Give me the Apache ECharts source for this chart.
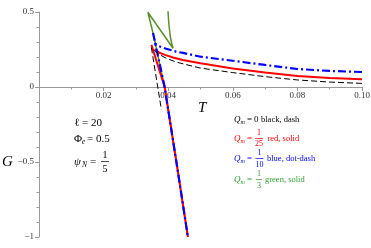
<!DOCTYPE html>
<html>
<head>
<meta charset="utf-8">
<script src="https://cdn.jsdelivr.net/npm/echarts@6/dist/echarts.min.js"></script>
<style>html,body{margin:0;padding:0;background:#fff}#c{width:371px;height:248px}</style>
</head>
<body>
<div id="c"></div>
<script>
// ---- data ----
const xTicks = [0.02, 0.04, 0.06, 0.08, 0.10];
const yTicks = [-1, -0.5, 0, 0.5];

// Q_m = 0 (black, dash): large-T branch + cusp + short steep branch
const blackT = [0.100, 0.090, 0.080, 0.070, 0.060, 0.050, 0.0477, 0.0436, 0.0415, 0.0390, 0.0374, 0.0360, 0.0348, 0.0379];
const blackG = [0.024, 0.033, 0.047, 0.069, 0.096, 0.126, 0.138, 0.160, 0.174, 0.196, 0.215, 0.236, 0.262, -0.152];

// Q_m = 1/25 (red, solid)
const redUpperT = [0.100, 0.090, 0.080, 0.070, 0.060, 0.050, 0.0445, 0.0415, 0.0390, 0.0373, 0.0358];
const redUpperG = [0.051, 0.060, 0.073, 0.096, 0.124, 0.158, 0.180, 0.197, 0.214, 0.228, 0.252];
const redSteepT = [0.0348, 0.0389, 0.04254, 0.0461];
const redSteepG = [0.282, 0.000, -0.500, -1.000];

// Q_m = 1/10 (blue, dot-dash)
const blueUpperT = [0.100, 0.090, 0.080, 0.070, 0.060, 0.050, 0.0477, 0.0446, 0.0424, 0.0394, 0.0367, 0.0358];
const blueUpperG = [0.100, 0.107, 0.120, 0.147, 0.175, 0.202, 0.213, 0.227, 0.236, 0.255, 0.275, 0.293];
const blueSteepT = [0.0353, 0.0389, 0.04254, 0.0461];
const blueSteepG = [0.360, 0.000, -0.500, -1.000];

// Q_m = 1/3 (green, solid)
const greenT = [0.0399, 0.0401, 0.0403, 0.0407, 0.0411, 0.0415, 0.0337, 0.0353, 0.0389, 0.04254, 0.0461];
const greenG = [0.520, 0.450, 0.400, 0.330, 0.290, 0.258, 0.498, 0.360, 0.000, -0.500, -1.000];

const zip = (a, b) => a.map((v, i) => [v, b[i]]);

const SERIF = 'Liberation Serif, DejaVu Serif, serif';
function txt(x, y, s, size, color, italic, align) {
  return { type: 'text', x: x, y: y, silent: true,
    style: { text: s, fill: color, font: (italic ? 'italic ' : '') + size + 'px ' + SERIF,
      textAlign: align || 'left', textVerticalAlign: 'middle', verticalAlign: 'middle' } };
}
function hline(x1, x2, y, color) {
  return { type: 'line', silent: true, shape: { x1: x1, y1: y, x2: x2, y2: y }, style: { stroke: color, lineWidth: 0.7 } };
}
function qm(y, color) {
  return [txt(234, y, 'Q', 9, color, true), txt(240.5, y + 2, 'm', 6, color, true), txt(247, y, '=', 9, color, false)];
}

const graphics = [].concat(
  // axis names
  [txt(2, 162, 'G', 15, '#000', true), txt(198, 108, 'T', 15, '#000', true)],
  // parameter block
  [txt(74, 123, 'ℓ = 20', 11, '#000', false)],
  [txt(74, 139, 'Φ', 11, '#000', false), txt(82, 142, 'e', 7.5, '#000', true), txt(87, 139, '= 0.5', 11, '#000', false)],
  [txt(74, 162, 'ψ', 11, '#000', true), txt(82, 165, 'N', 7.5, '#000', true), txt(90, 162, '=', 11, '#000', false),
   txt(105, 155, '1', 10, '#000', false, 'center'), hline(101, 109, 161.5, '#000'), txt(105, 169, '5', 10, '#000', false, 'center')],
  // legend lines
  qm(120, '#000'), [txt(254, 120, '0', 9, '#000', false), txt(261, 120, 'black, dash', 8.5, '#000', false)],
  qm(139, '#f00'), [txt(259, 133, '1', 8, '#f00', false, 'center'), hline(255, 263, 138.5, '#f00'),
   txt(259, 144, '25', 8, '#f00', false, 'center'), txt(267.5, 139, 'red, solid', 8.5, '#f00', false)],
  qm(159, '#00f'), [txt(259.5, 152.5, '1', 8, '#00f', false, 'center'), hline(255.5, 263.5, 158.5, '#00f'),
   txt(259.5, 164.5, '10', 8, '#00f', false, 'center'), txt(267, 159, 'blue, dot-dash', 8.5, '#00f', false)],
  qm(180, '#2f9a2f'), [txt(259, 173.5, '1', 8, '#2f9a2f', false, 'center'), hline(256, 262, 179.5, '#2f9a2f'),
   txt(259, 185.5, '3', 8, '#2f9a2f', false, 'center'), txt(265, 180, 'green, solid', 8.5, '#2f9a2f', false)]
);

const chart = echarts.init(document.getElementById('c'), null, { renderer: 'canvas' });
chart.setOption({
  animation: false,
  backgroundColor: '#fff',
  grid: { left: 39, right: 9, top: 12, bottom: 11, containLabel: false, outerBoundsMode: 'none' },
  xAxis: {
    type: 'value', min: 0, max: 0.1, interval: 0.02, position: 'bottom', offset: -150,
    axisLine: { show: true, onZero: false, lineStyle: { color: '#999', width: 1 } },
    axisTick: { show: true, length: 4, lineStyle: { color: '#999' } },
    minorTick: { show: true, splitNumber: 2, length: 2.5, lineStyle: { color: '#999' } },
    splitLine: { show: false },
    axisLabel: { margin: 4, fontFamily: SERIF, fontSize: 9, color: '#333', showMaxLabel: true,
      formatter: v => { const t = xTicks.find(k => Math.abs(k - v) < 1e-9); return t === undefined ? '' : t.toFixed(2); } }
  },
  yAxis: {
    type: 'value', min: -1, max: 0.5, interval: 0.5,
    axisLine: { show: true, onZero: false, lineStyle: { color: '#999', width: 1 } },
    axisTick: { show: true, length: 4, lineStyle: { color: '#999' } },
    minorTick: { show: true, splitNumber: 5, length: 2.5, lineStyle: { color: '#999' } },
    splitLine: { show: false },
    axisLabel: { margin: 5, fontFamily: SERIF, fontSize: 9, color: '#333',
      formatter: v => { const t = yTicks.find(k => Math.abs(k - v) < 1e-9); return t === undefined ? '' : String(t).replace('-', '−'); } }
  },
  series: [
    { type: 'line', data: zip(greenT, greenG), showSymbol: false, clip: true, lineStyle: { color: '#5b8f2c', width: 1.5 } },
    { type: 'line', data: zip(redSteepT, redSteepG), showSymbol: false, clip: true, lineStyle: { color: '#f00', width: 2 } },
    { type: 'line', data: zip(redUpperT, redUpperG), showSymbol: false, clip: true, lineStyle: { color: '#f00', width: 2 } },
    { type: 'line', data: zip(blueSteepT, blueSteepG), showSymbol: false, clip: true, lineStyle: { color: '#00f', width: 2.2, type: [8, 3, 2, 3] } },
    { type: 'line', data: zip(blueUpperT, blueUpperG), showSymbol: false, clip: true, lineStyle: { color: '#00f', width: 2.2, type: [8, 3, 2, 3] } },
    { type: 'line', data: zip(blackT, blackG), showSymbol: false, clip: true, lineStyle: { color: '#000', width: 1, type: [6, 3] } }
  ],
  graphic: graphics
});
</script>
</body>
</html>
